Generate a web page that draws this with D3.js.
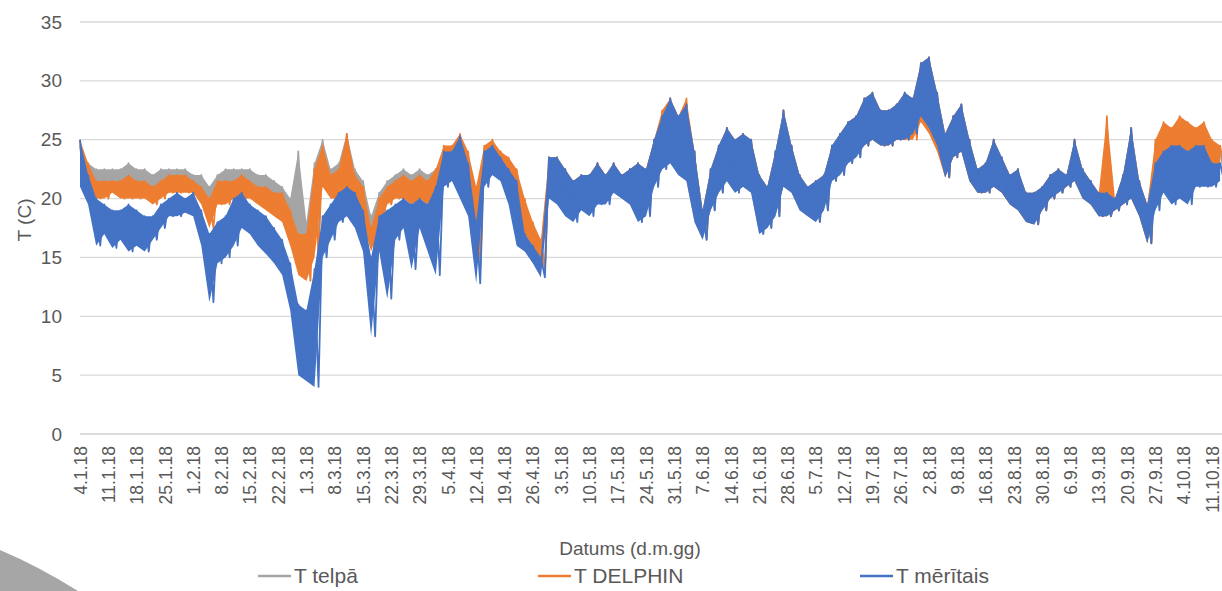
<!DOCTYPE html>
<html lang="lv">
<head>
<meta charset="utf-8">
<title>T telpā / T DELPHIN / T mērītais</title>
<script src="https://d3js.org/d3.v7.min.js"></script>
<style>
  body { margin: 0; background: #fff; }
  text { font-family: "Liberation Sans", Arial, sans-serif; fill: #595959; }
</style>
</head>
<body>
<script>
// Every 2 days from 4.1.18: daily high and daily low
var startDate = new Date(2018, 0, 4);

var grayHi = [24.5,23,22.5,22.5,22.5,22.5,23,22.5,22.5,22,
22.5,22.5,22.5,22.5,22,22,21,22,22.5,22.5,
22.5,22.5,22,22,21.5,21,20,24,18,23,
25,22.5,23,25.5,22.5,21.5,18.5,20.5,21.5,22,
22.5,22,22.5,22,22.5,24,24,25,23.5,20,
24,24.5,24,23,22,19.5,17.5,16,23.5,23.5,
22.5,21.5,22,22,23,22,23,22,22.5,23,
22.5,25,27,28.5,27,28,24,19,22.5,24.5,
26,25,25.5,25,22,21,24,27.5,24.5,22,
21,21.5,22,24.5,25.5,26.5,27,28.5,29,27.5,
27.5,28,29,28.5,31.5,32,29,25.5,27,28,
25,22.5,23,25,23.5,22,22.5,20.5,20.5,21,
22,22.5,22,25,22.5,21.5,20.5,20.5,20,22,
26,21.5,19.5,24,25.5,25.5,26,25.5,25.5,26,
24.5,24];
var grayLo = [21.5,21.5,21,21,21,21,21,21,21,20.5,
21,21,21,21,21,20.5,19,20.5,20.5,21,
21,21,20.5,20,19.5,19,17.5,15,14.5,16,
21.5,20.5,20.5,21,20,19,16.5,18.5,20,20.5,
20.5,20,20.5,20,20.5,21.5,21.5,21,19.5,14,
21.5,22,21.5,20.5,19,16.5,15.5,14,20.5,20,
19.5,19,19.5,19,20,20,20.5,20,19.5,18.5,
19,21,22.5,23,22,21.5,18,16.5,19,20.5,
21.5,20.5,21,20.5,17,17.5,18.5,21,20.5,19,
18.5,18,19,21.5,22,23,23.5,24.5,25,24.5,
24.5,25,25,25.5,27,26,24.5,21.8,23.5,24,
21.5,20.5,20.5,21,20.5,19.5,19,18,17.8,19,
20,20.5,21,21.5,20,19.5,18.5,18.5,19,19.5,
20,18.5,16.2,19.5,23,23,23.5,23,23,23.5,
21.5,22];

var orangeHi = [25,23,21.5,21.5,21.5,21.5,22,21.5,21.5,21,
21.5,22,22,22,21.5,21,20,21.5,21.5,21.5,
22,21.5,21,21,20.5,20.5,19,17,17,22.5,
24.5,22,22.5,25.5,22,21,17.5,20,21,21.5,
22,21.5,22,21.5,22.5,24.5,24.5,25.5,24,21,
24.5,25,24,23.5,22.5,20,18,16.5,23.5,23.5,
22.5,21.5,22,22,23,22,23,22,22.5,23,
22.5,25,27.5,28.5,27,28.5,24,19,22.5,24.5,
26,25,25.5,25,22,21,24,27.5,24.5,22,
21,21.5,22,24.5,25.5,26.5,27,28.5,29,27.5,
27.5,28,29,28.5,31.5,32,29,25.5,27,28,
25,22.5,23,25,23.5,22,22.5,20.5,20.5,21,
22,22.5,22,25,22.5,21.5,20.5,27,20,22,
26,21.5,19.5,25,26.5,26,27,26.5,26,26.5,
25,24.5];
var orangeLo = [21.5,21,20,20,20.5,20,20,20,20,19.5,
20,20.5,20.5,20.5,20.5,19.5,17.5,19.5,19.5,20,
20,20,19.5,19,18.5,18,16,13.5,13,15,
21,20,20,21,19.5,18,15.5,17.5,19.5,20,
20,19.5,20,19.5,20,22,22,21.5,20,15,
22,22.5,22,21,20,17,16,14,21,20.5,
20,19.5,20,19.5,20.5,20.5,21,20.5,20,19,
19.5,21.5,23,23.5,22.5,22,18.5,17,19.5,21,
22,21,21.5,21,17.5,18,19,21.5,21,19.5,
19,18.5,19.5,22,22.5,23.5,24,24.5,25,24.5,
24.5,25,25,25,26.5,25.5,24,21.8,23.5,24,
21.5,20.5,20.5,21,20.5,19.5,19,18,17.8,19,
20,20.5,21,21.5,20,19.5,18.5,18.5,19,19.5,
20,18.5,16.2,20,24,24,24.5,24,24,24.5,
22,22.5];

var blueHi = [25,22,20,19.5,19,19,19.5,19,18.5,18.5,
19.5,20,20.5,20,20.5,19,17,18,18.5,20,
20.5,19.5,19,18.5,17.5,16.5,14.5,11,10.5,14,
18.5,19.5,20.5,21,20.5,19,15,18.5,19,19.5,
20,19.5,20,19.5,21,24,24,25.3,23,18,
24,24.5,23.5,22.5,21.5,17,16,15,23.5,23.5,
22.5,21.5,22,22,23,22,23,22,22.5,23,
22.5,25,27,28.5,27,28,24,19,22.5,24.5,
26,25,25.5,25,22,21,24,27.5,24.5,22,
21,21.5,22,24.5,25.5,26.5,27,28.5,29,27.5,
27.5,28,29,28.5,31.5,32,29,25.5,27,28,
25,22.5,23,25,23.5,22,22.5,20.5,20.5,21,
22,22.5,22,25,22.5,21.5,20.5,20.5,20,22,
26,21.5,19.5,23,24,24.5,24.5,24,24.5,24.5,
23,23];
var blueLo = [21,19.5,16,17,15.8,16.5,15.5,16,15.5,16.5,
17.5,18.5,18.5,18.8,18.5,16,11.2,14.5,15,16,
17.5,17,16,15.3,14.5,13.5,10.5,5,4.5,4,
15,16.5,18,18.5,17.5,15.5,8.3,15.5,11.5,16.5,
17.5,14,17.5,15.5,13.5,21,21.5,20,18.5,12.8,
21,22,21.5,19.5,16,15.5,14.5,13.3,20,19.5,
18.5,18,19,18.5,19.5,19.5,20.5,20,19.5,18,
18.5,21,22.5,23,22,21.5,18,16.5,19,20.5,
21.5,20.5,21,20.5,17,17.5,18.5,21,20.5,19,
18.5,18,19,21.5,22,23,23.5,24.5,25,24.5,
24.5,25,25,25.5,27,26,24.5,21.8,23.5,24,
21.5,20.5,20.5,21,20.5,19.5,19,18,17.8,19,
20,20.5,21,21.5,20,19.5,18.5,18.5,19,19.5,
20,18.5,16.2,19,20.5,19.5,20,19.5,21,21,
21,21.5];

var xTickLabels = ["4.1.18","11.1.18","18.1.18","25.1.18","1.2.18","8.2.18","15.2.18","22.2.18",
  "1.3.18","8.3.18","15.3.18","22.3.18","29.3.18","5.4.18","12.4.18","19.4.18","26.4.18",
  "3.5.18","10.5.18","17.5.18","24.5.18","31.5.18","7.6.18","14.6.18","21.6.18","28.6.18",
  "5.7.18","12.7.18","19.7.18","26.7.18","2.8.18","9.8.18","16.8.18","23.8.18","30.8.18",
  "6.9.18","13.9.18","20.9.18","27.9.18","4.10.18","11.10.18"];
var yTicks = [0, 5, 10, 15, 20, 25, 30, 35];

var series = [
  {name: "T telpā", color: "#a5a5a5", hi: grayHi, lo: grayLo},
  {name: "T DELPHIN", color: "#ed7d31", hi: orangeHi, lo: orangeLo},
  {name: "T mērītais", color: "#4472c4", hi: blueHi, lo: blueLo}
];

var w = 1222, h = 591;
var svg = d3.select("body").append("svg").attr("width", w).attr("height", h);

var parseTick = d3.timeParse("%d.%m.%y");
var tickDates = xTickLabels.map(parseTick);

var xScale = d3.scaleTime().domain([startDate, new Date(2018, 9, 11)]).range([80, 1212]);
var yScale = d3.scaleLinear().domain([0, 35]).range([434, 22]);

// gridlines
svg.append("g").selectAll("line").data(yTicks).join("line")
  .attr("x1", 80).attr("x2", w)
  .attr("y1", d => yScale(d)).attr("y2", d => yScale(d))
  .attr("stroke", "#d9d9d9").attr("stroke-width", 1.3);

// y axis labels
var yAxis = d3.axisLeft(yScale).tickValues(yTicks).tickSize(0).tickPadding(0);
var gy = svg.append("g").attr("transform", "translate(62,0)").call(yAxis);
gy.select(".domain").remove();
gy.selectAll("text").style("font-size", "19px").attr("fill", "#595959");

// x axis labels
var xAxis = d3.axisBottom(xScale).tickValues(tickDates).tickFormat((d, i) => xTickLabels[i]).tickSize(0);
var gx = svg.append("g").attr("transform", "translate(0,434)").call(xAxis);
gx.select(".domain").attr("stroke", "#d9d9d9").attr("stroke-width", 1.3).attr("d", "M80,0H" + w);
gx.selectAll("text")
  .style("font-size", "17.5px").attr("fill", "#595959")
  .attr("text-anchor", "end")
  .attr("transform", "rotate(-90)")
  .attr("x", -12).attr("y", 0).attr("dy", "0.35em");

// lines: the daily swing between high and low reads as a band
var line = d3.line().x(d => xScale(d.t)).y(d => yScale(d.v));
var area = d3.area().x(d => xScale(d.t)).y0(d => yScale(d.lo)).y1(d => yScale(d.hi));
function points(s) {
  var pts = [];
  s.hi.forEach(function(v, i) {
    pts.push({t: d3.timeDay.offset(startDate, 2 * i), v: v});
    pts.push({t: d3.timeDay.offset(startDate, 2 * i + 1), v: s.lo[i]});
  });
  return pts;
}
function band(s) {
  return s.hi.map((v, i) => ({t: d3.timeDay.offset(startDate, 2 * i + 0.5), hi: v, lo: s.lo[i]}));
}
var sg = svg.append("g").selectAll("g").data(series).join("g");
sg.append("path").attr("d", d => area(band(d)))
  .attr("fill", d => d.color);
sg.append("path")
  .attr("d", d => line(points(d)))
  .attr("fill", "none").attr("stroke", d => d.color)
  .attr("stroke-width", 1.8).attr("stroke-linejoin", "round");

// axis titles
svg.append("text").attr("x", 630).attr("y", 555).attr("text-anchor", "middle")
  .style("font-size", "19px").text("Datums (d.m.gg)");
svg.append("text").attr("transform", "translate(31,220) rotate(-90)").attr("text-anchor", "middle")
  .style("font-size", "19px").text("T (C)");

// legend
var legendX = [258, 538, 860];
var lg = svg.append("g").selectAll("g").data(series).join("g")
  .attr("transform", (d, i) => "translate(" + legendX[i] + ",576)");
lg.append("line").attr("x1", 0).attr("x2", 33).attr("stroke", d => d.color).attr("stroke-width", 2.5);
lg.append("text").attr("x", 36).attr("dy", "0.35em").style("font-size", "21px").text(d => d.name);

// slide decoration bottom-left
svg.append("path").attr("d", "M0,550 Q38,566 78,591 L0,591 Z").attr("fill", "#a6a6a6");
</script>
</body>
</html>
